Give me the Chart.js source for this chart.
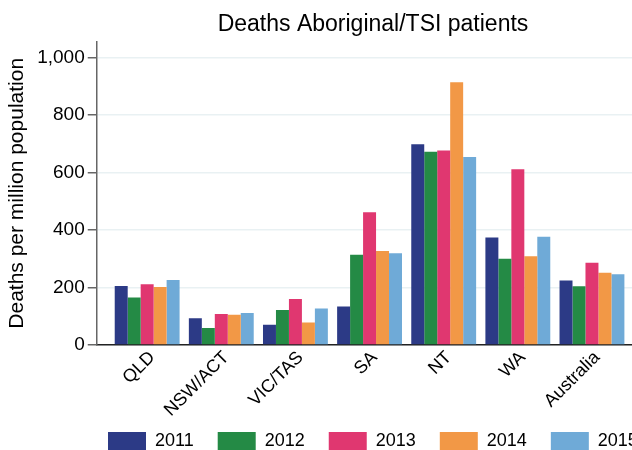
<!DOCTYPE html>
<html>
<head>
<meta charset="utf-8">
<script src="https://cdn.jsdelivr.net/npm/chart.js@4/dist/chart.umd.min.js"></script>
<style>
  body { margin: 0; background: #fff; }
  #wrap { width: 632px; height: 450px; }
</style>
</head>
<body>
<div id="wrap"><canvas id="deathsChart"></canvas></div>
<script>
// Regions along the x axis
const regions = ["QLD", "NSW/ACT", "VIC/TAS", "SA", "NT", "WA", "Australia"];
// Deaths per million population, one array per year
const deaths2011 = [205, 93, 70, 134, 698, 374, 224];
const deaths2012 = [165, 59, 122, 314, 672, 300, 204];
const deaths2013 = [211, 108, 160, 462, 676, 611, 286];
const deaths2014 = [202, 105, 78, 327, 914, 309, 251];
const deaths2015 = [226, 111, 127, 319, 654, 376, 246];
const yTicks = [0, 200, 400, 600, 800, 1000];

const font = "'Liberation Sans', Arial, sans-serif";
Chart.defaults.font.family = font;
Chart.defaults.color = "#000";

// turn one year into {x, y} points for the linear x axis
function toPoints(values) {
  return values.map((v, i) => ({ x: i, y: v }));
}

// Move title and legend to where the original puts them
const placeBoxes = {
  id: "placeBoxes",
  afterLayout(chart) {
    chart.titleBlock.left = 114;
    chart.titleBlock.right = 632;
    // legend runs off the right edge in the original
    chart.legend.left = 84;
    chart.legend.right = 760;
    chart.legend.top = 408;
  },
};

new Chart("deathsChart", {
  type: "bar",
  data: {
    datasets: [
      { label: "2011", data: toPoints(deaths2011), backgroundColor: "#2c3a86" },
      { label: "2012", data: toPoints(deaths2012), backgroundColor: "#248a45" },
      { label: "2013", data: toPoints(deaths2013), backgroundColor: "#e03770" },
      { label: "2014", data: toPoints(deaths2014), backgroundColor: "#f29846" },
      { label: "2015", data: toPoints(deaths2015), backgroundColor: "#6faad7" },
    ],
  },
  options: {
    responsive: true,
    maintainAspectRatio: false,
    animation: false,
    categoryPercentage: 0.875,
    barPercentage: 1,
    borderWidth: 0,
    layout: { padding: { left: 1, right: 0, top: 0, bottom: -19 } },
    plugins: {
      title: {
        display: true,
        text: "Deaths Aboriginal/TSI patients",
        font: { size: 23, weight: "normal" },
        padding: { top: 11, bottom: 3 },
      },
      legend: {
        position: "bottom",
        align: "start",
        labels: {
          boxWidth: 38,
          boxHeight: 18,
          padding: 24,
          font: { size: 18 },
        },
      },
      tooltip: { enabled: false },
    },
    scales: {
      x: {
        type: "linear",
        offset: false,
        min: -0.68,
        max: 6.54,
        afterBuildTicks: (axis) => {
          axis.ticks = regions.map((r, i) => ({ value: i }));
        },
        afterFit: (axis) => {
          axis.height = 72;
        },
        ticks: {
          autoSkip: false,
          minRotation: 45,
          maxRotation: 45,
          padding: 2,
          labelOffset: 5,
          font: { size: 18 },
          callback: (v) => regions[v],
        },
        grid: { drawOnChartArea: false, drawTicks: false },
        border: { color: "#222", width: 1.5 },
      },
      y: {
        min: 0,
        max: 1055,
        afterBuildTicks: (axis) => {
          axis.ticks = yTicks.map((v) => ({ value: v }));
        },
        ticks: {
          padding: 3,
          font: { size: 19 },
          callback: (v) => v.toLocaleString("en-US"),
        },
        grid: { color: "#e9f1f3", lineWidth: 1.5, tickColor: "#666", tickLength: 9 },
        border: { color: "#666", width: 1.5 },
        title: {
          display: true,
          text: "Deaths per million population",
          font: { size: 21 },
        },
      },
    },
  },
  plugins: [placeBoxes],
});
</script>
</body>
</html>
